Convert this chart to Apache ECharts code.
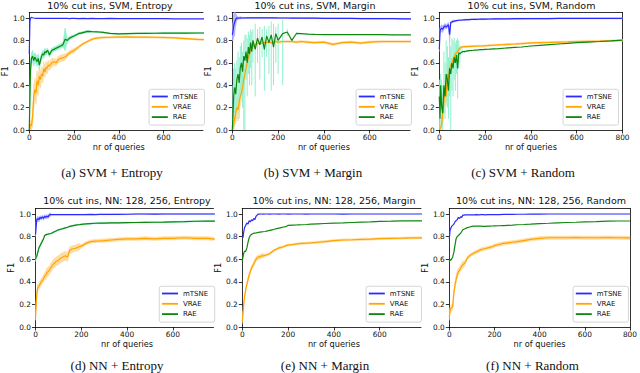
<!DOCTYPE html>
<html><head><meta charset="utf-8">
<script src="https://cdn.jsdelivr.net/npm/echarts@6/dist/echarts.min.js"></script>
<style>html,body{margin:0;padding:0;background:#fff}#c{width:640px;height:373px}</style>
</head><body><div id="c"></div>
<script>
// ---------------- data ----------------
const queries = [0,3,6,10,15,20,25,30,35,40,45,50,55,60,65,70,75,80,85,90,100,110,120,130,140,150,160,170,180,190,200,220,240,260,280,300,330,360,400,440,480,520,560,600,650,700,750,800];
const xTicks = [0,200,400,600,800];
const yTicks = [0,0.2,0.4,0.6,0.8,1.0];
const yTickLabels = ['0.0','0.2','0.4','0.6','0.8','1.0'];
const seriesNames = ['mTSNE','VRAE','RAE'];
const titles = ['10% cut ins, SVM, Entropy','10% cut ins, SVM, Margin','10% cut ins, SVM, Random','10% cut ins, NN: 128, 256, Entropy','10% cut ins, NN: 128, 256, Margin','10% cut ins, NN: 128, 256, Random'];
const captions = ['(a) SVM + Entropy','(b) SVM + Margin','(c) SVM + Random','(d) NN + Entropy','(e) NN + Margin','(f) NN + Random'];

// (a) SVM + Entropy
const a_mTSNE = [0.68,0.97,1.0,1.005,1.002, 1.0,0.998,0.997,0.998,0.997, 0.998,0.997,0.996,0.997,0.996, 0.997,0.996,0.997,0.996,0.997, 0.996,0.996,0.997,0.996,0.996, 0.997,0.996,0.996,0.995,0.996, 0.996,0.995,0.996,0.995,0.996, 0.995,0.995,0.996,0.995,0.995, 0.994,0.995,0.994,0.994,0.993, 0.993,0.992,0.992];
const a_VRAE = [0.0,0.02,0.05,0.04,0.12, 0.3,0.36,0.33,0.44,0.4, 0.48,0.45,0.5,0.48,0.55, 0.52,0.56,0.55,0.58,0.57, 0.6,0.61,0.6,0.63,0.64, 0.645,0.65,0.67,0.69,0.7, 0.71,0.74,0.77,0.79,0.81, 0.82,0.826,0.828,0.83,0.831, 0.83,0.829,0.828,0.826,0.822, 0.816,0.81,0.805];
const a_VRAE_err = [0,0.02,0.04,0.05,0.08, 0.1,0.1,0.1,0.09,0.09, 0.08,0.07,0.07,0.06,0.06, 0.05,0.05,0.05,0.04,0.04, 0.04,0.03,0.03,0.03,0.03, 0.03,0.03,0.02,0.02,0.02, 0.02,0.015,0.01,0.01,0.01, 0.01,0.008,0.008,0.008,0.008, 0.008,0.008,0.008,0.008,0.008, 0.008,0.008,0.008];
const a_RAE = [0.0,0.3,0.55,0.64,0.66, 0.62,0.65,0.63,0.61,0.64, 0.58,0.62,0.66,0.68,0.67, 0.7,0.69,0.71,0.7,0.67, 0.71,0.72,0.73,0.74,0.75, 0.76,0.81,0.8,0.82,0.83, 0.84,0.86,0.87,0.88,0.878, 0.877,0.872,0.862,0.858,0.86, 0.862,0.863,0.864,0.865,0.865, 0.865,0.866,0.866];
const a_RAE_err = [0,0.1,0.08,0.05,0.05, 0.05,0.04,0.04,0.04,0.04, 0.04,0.03,0.03,0.03,0.03, 0.03,0.02,0.02,0.02,0.02, 0.02,0.02,0.02,0.02,0.02, 0.02,0.1,0.02,0.015,0.015, 0.01,0.01,0.01,0.01,0.005, 0.005,0.005,0.005,0.005,0.005, 0.005,0.005,0.005,0.005,0.005, 0.005,0.005,0.005];

// (b) SVM + Margin
const b_mTSNE = [0.85,0.88,0.93,0.96,0.99, 1.0,0.999,1.0,1.001,1.0, 1.0,1.001,1.0,1.001,1.002, 1.002,1.001,1.002,1.002,1.001, 1.002,1.002,1.001,1.002,1.002, 1.001,1.002,1.001,1.001,1.001, 1.0,1.0,1.0,0.999,0.999, 0.999,0.998,0.998,0.997,0.997, 0.996,0.996,0.995,0.995,0.994, 0.994,0.993,0.993];
const b_mTSNE_err = [0.05,0.08,0.1,0.12,0.05, 0.02,0.01,0.01,0.01,0.01, 0.004,0.004,0.004,0.004,0.004, 0.004,0.004,0.004,0.004,0.004, 0.004,0.004,0.004,0.004,0.004, 0.004,0.004,0.004,0.004,0.004, 0.004,0.004,0.004,0.004,0.004, 0.004,0.004,0.004,0.004,0.004, 0.004,0.004,0.004,0.004,0.004, 0.004,0.004,0.004];
const b_VRAE = [0.0,0.02,0.05,0.1,0.15, 0.2,0.18,0.25,0.3,0.33, 0.38,0.45,0.5,0.55,0.6, 0.64,0.68,0.71,0.73,0.75, 0.76,0.77,0.78,0.775,0.78, 0.78,0.785,0.78,0.785,0.79, 0.785,0.79,0.79,0.79,0.785, 0.79,0.785,0.78,0.785,0.765, 0.78,0.785,0.775,0.785,0.79, 0.79,0.79,0.79];
const b_VRAE_err = [0,0.03,0.05,0.07,0.08, 0.1,0.1,0.09,0.08,0.07, 0.06,0.05,0.05,0.04,0.04, 0.03,0.03,0.03,0.02,0.02, 0.01,0.01,0.01,0.01,0.01, 0.01,0.01,0.01,0.01,0.01, 0.01,0.01,0.01,0.01,0.01, 0.01,0.01,0.01,0.01,0.01, 0.01,0.01,0.01,0.01,0.01, 0.01,0.01,0.01];
const b_RAE = [0.0,0.15,0.3,0.38,0.32, 0.45,0.5,0.42,0.56,0.6, 0.52,0.66,0.62,0.7,0.6, 0.74,0.68,0.78,0.7,0.8, 0.72,0.82,0.76,0.83,0.72, 0.84,0.78,0.85,0.74,0.86, 0.8,0.86,0.875,0.8,0.862, 0.86,0.856,0.853,0.852,0.852, 0.851,0.851,0.851,0.851,0.851, 0.85,0.85,0.85];
const b_RAE_lo = [0.0,0.0,0.1,0.15,0.1, 0.2,0.25,0.1,0.3,0.35, 0.2,0.0,0.0,0.45,0.3, 0.5,0.4,0.55,0.4,0.6, 0.3,0.6,0.45,0.65,0.35, 0.65,0.5,0.35,0.4,0.6, 0.5,0.4,0.84,0.79,0.855, 0.855,0.851,0.848,0.847,0.847, 0.846,0.846,0.846,0.846,0.846, 0.845,0.845,0.845];
const b_RAE_hi = [0.1,0.4,0.55,0.6,0.55, 0.62,0.7,0.65,0.75,0.78, 0.7,0.8,0.85,0.85,0.82, 0.88,0.85,0.9,0.88,0.9, 0.95,0.9,0.92,0.9,0.93, 0.9,0.93,0.97,0.95,0.92, 0.95,0.98,0.9,0.81,0.868, 0.865,0.861,0.858,0.857,0.857, 0.856,0.856,0.856,0.856,0.856, 0.855,0.855,0.855];

// (c) SVM + Random
const c_mTSNE = [0.72,0.88,0.9,0.91,0.9, 0.92,0.93,0.92,0.93,0.94, 0.85,0.96,0.965,0.97,0.972, 0.975,0.977,0.978,0.98,0.98, 0.982,0.984,0.985,0.986,0.987, 0.988,0.988,0.989,0.99,0.99, 0.99,0.991,0.992,0.992,0.993, 0.993,0.994,0.994,0.995,0.995, 0.995,0.996,0.996,0.996,0.996, 0.996,0.996,0.996];
const c_mTSNE_err = [0.02,0.03,0.03,0.03,0.03, 0.02,0.02,0.02,0.02,0.02, 0.06,0.01,0.01,0.01,0.01, 0.005,0.005,0.005,0.005,0.005, 0.005,0.005,0.005,0.005,0.005, 0.005,0.005,0.005,0.005,0.005, 0.005,0.005,0.005,0.005,0.005, 0.005,0.005,0.005,0.005,0.005, 0.005,0.005,0.005,0.005,0.005, 0.005,0.005,0.005];
const c_VRAE = [0.0,0.0,0.02,0.05,0.15, 0.25,0.35,0.3,0.5,0.45, 0.55,0.58,0.6,0.63,0.65, 0.68,0.69,0.7,0.72,0.73, 0.742,0.744,0.745,0.746,0.747, 0.748,0.749,0.75,0.75,0.751, 0.752,0.755,0.757,0.76,0.762, 0.765,0.768,0.772,0.778,0.78, 0.782,0.785,0.787,0.79,0.792, 0.794,0.797,0.8];
const c_VRAE_err = [0,0.02,0.05,0.08,0.1, 0.1,0.1,0.08,0.08,0.06, 0.05,0.05,0.04,0.03,0.03, 0.02,0.02,0.02,0.02,0.02, 0.008,0.008,0.008,0.008,0.008, 0.008,0.008,0.008,0.008,0.008, 0.008,0.008,0.008,0.008,0.008, 0.008,0.008,0.008,0.008,0.008, 0.008,0.008,0.008,0.008,0.008, 0.008,0.008,0.008];
const c_RAE = [0.3,0.1,0.4,0.22,0.15, 0.4,0.3,0.5,0.45,0.35, 0.55,0.5,0.6,0.55,0.65, 0.6,0.67,0.55,0.69,0.68, 0.7,0.7,0.705,0.708,0.71, 0.712,0.714,0.715,0.717,0.718, 0.72,0.722,0.725,0.727,0.73, 0.733,0.737,0.741,0.75,0.756, 0.762,0.768,0.773,0.78,0.785, 0.79,0.796,0.803];
const c_RAE_lo = [0.0,0.0,0.15,0.05,0.0, 0.15,0.1,0.25,0.2,0.1, 0.3,0.0,0.35,0.3,0.45, 0.35,0.5,0.28,0.55,0.6, 0.68,0.69,0.695,0.7,0.7, 0.706,0.708,0.709,0.711,0.712, 0.714,0.716,0.719,0.721,0.724, 0.727,0.731,0.735,0.744,0.75, 0.756,0.762,0.767,0.774,0.779, 0.784,0.79,0.797];
const c_RAE_hi = [0.45,0.3,0.5,0.45,0.4, 0.7,0.6,0.8,0.75,0.65, 0.8,0.75,0.82,0.8,0.82, 0.78,0.8,0.82,0.8,0.75, 0.72,0.71,0.715,0.716,0.72, 0.718,0.72,0.721,0.723,0.724, 0.726,0.728,0.731,0.733,0.736, 0.739,0.743,0.747,0.756,0.762, 0.768,0.774,0.779,0.786,0.791, 0.796,0.802,0.809];

// (d) NN + Entropy
const d_mTSNE = [0.82,0.9,0.95,0.96,0.95, 0.97,0.96,0.975,0.96,0.98, 0.97,0.98,0.975,0.99,0.995, 0.995,0.994,0.995,0.995,0.994, 0.995,0.995,0.994,0.995,0.995, 0.995,0.994,0.995,0.995,0.995, 0.995,0.995,0.996,0.995,0.996, 0.996,0.996,0.997,0.998,1.0, 1.0,0.999,1.0,1.0,1.0, 1.0,1.0,1.0];
const d_mTSNE_err = [0.02,0.03,0.02,0.02,0.02, 0.015,0.015,0.015,0.015,0.015, 0.015,0.015,0.015,0.015,0.015, 0.003,0.003,0.003,0.003,0.003, 0.003,0.003,0.003,0.003,0.003, 0.003,0.003,0.003,0.003,0.003, 0.003,0.003,0.003,0.003,0.003, 0.003,0.003,0.003,0.003,0.003, 0.003,0.003,0.003,0.003,0.003, 0.003,0.003,0.003];
const d_VRAE = [0.08,0.2,0.3,0.35,0.36, 0.38,0.4,0.41,0.43,0.45, 0.46,0.48,0.49,0.5,0.52, 0.53,0.55,0.56,0.57,0.58, 0.59,0.61,0.62,0.63,0.62, 0.68,0.69,0.695,0.7,0.71, 0.715,0.74,0.755,0.76,0.762, 0.765,0.77,0.775,0.78,0.78, 0.785,0.78,0.785,0.785,0.79, 0.785,0.785,0.775];
const d_VRAE_err = [0.02,0.03,0.03,0.03,0.03, 0.03,0.03,0.03,0.03,0.03, 0.04,0.04,0.04,0.04,0.04, 0.04,0.04,0.04,0.04,0.04, 0.04,0.04,0.04,0.04,0.04, 0.03,0.03,0.03,0.03,0.03, 0.015,0.015,0.015,0.015,0.015, 0.015,0.015,0.015,0.015,0.015, 0.015,0.015,0.015,0.015,0.015, 0.015,0.015,0.015];
const d_RAE = [0.6,0.62,0.63,0.66,0.7, 0.72,0.74,0.76,0.78,0.81, 0.815,0.82,0.822,0.825,0.827, 0.83,0.835,0.84,0.845,0.85, 0.86,0.865,0.87,0.877,0.883, 0.89,0.895,0.9,0.903,0.905, 0.908,0.912,0.915,0.918,0.919, 0.92,0.921,0.922,0.924,0.925, 0.926,0.927,0.928,0.93,0.932, 0.936,0.938,0.937];
const d_RAE_err = [0.02,0.02,0.015,0.01,0.01, 0.005,0.005,0.005,0.005,0.005, 0.005,0.005,0.005,0.005,0.005, 0.005,0.005,0.005,0.005,0.005, 0.005,0.005,0.005,0.005,0.005, 0.005,0.005,0.005,0.005,0.005, 0.005,0.005,0.005,0.005,0.005, 0.005,0.005,0.005,0.005,0.005, 0.005,0.005,0.005,0.005,0.005, 0.005,0.005,0.005];

// (e) NN + Margin
const e_mTSNE = [0.8,0.79,0.84,0.88,0.9, 0.92,0.91,0.94,0.93,0.95, 0.94,0.96,0.95,0.98,0.99, 1.0,0.999,1.0,1.0,0.999, 1.0,1.0,0.999,1.0,1.0, 1.0,0.999,1.0,1.0,1.0, 0.999,1.0,1.0,1.0,0.999, 1.0,1.0,1.0,1.0,0.999, 1.0,1.0,1.0,1.0,1.0, 1.0,1.0,1.0];
const e_VRAE = [0.05,0.12,0.2,0.27,0.33, 0.38,0.42,0.46,0.49,0.52, 0.54,0.56,0.58,0.6,0.61, 0.62,0.62,0.625,0.63,0.63, 0.635,0.64,0.65,0.665,0.68, 0.69,0.7,0.705,0.71,0.72, 0.725,0.73,0.735,0.74,0.742, 0.745,0.75,0.755,0.765,0.77, 0.772,0.776,0.778,0.782,0.785, 0.786,0.788,0.79];
const e_VRAE_err = [0.02,0.02,0.02,0.02,0.02, 0.02,0.02,0.02,0.02,0.02, 0.02,0.02,0.02,0.02,0.02, 0.02,0.02,0.02,0.02,0.02, 0.01,0.01,0.01,0.01,0.01, 0.01,0.01,0.01,0.01,0.01, 0.01,0.01,0.01,0.01,0.01, 0.01,0.01,0.01,0.01,0.01, 0.01,0.01,0.01,0.01,0.01, 0.01,0.01,0.01];
const e_RAE = [0.58,0.62,0.65,0.67,0.67, 0.7,0.75,0.79,0.81,0.82, 0.825,0.83,0.83,0.832,0.835, 0.837,0.84,0.84,0.842,0.843, 0.845,0.85,0.855,0.86,0.865, 0.87,0.875,0.88,0.885,0.888, 0.9,0.902,0.903,0.905,0.907, 0.91,0.913,0.916,0.92,0.922, 0.925,0.928,0.93,0.935,0.937, 0.94,0.94,0.94];

// (f) NN + Random
const f_mTSNE = [0.78,0.85,0.87,0.89,0.9, 0.91,0.93,0.94,0.95,0.97, 0.96,0.975,0.97,0.99,0.99, 0.992,0.992,0.993,0.992,0.993, 0.993,0.993,0.994,0.993,0.994, 0.994,0.993,0.994,0.994,0.995, 0.995,0.995,0.996,0.997,0.997, 0.998,0.998,0.999,0.999,1.0, 1.0,1.0,1.0,1.0,1.0, 1.0,1.0,1.0];
const f_VRAE = [0.09,0.14,0.16,0.17,0.18, 0.3,0.37,0.42,0.46,0.49, 0.5,0.52,0.54,0.55,0.56, 0.57,0.59,0.61,0.62,0.63, 0.645,0.655,0.665,0.675,0.685, 0.69,0.695,0.7,0.705,0.71, 0.72,0.73,0.74,0.745,0.75, 0.755,0.765,0.775,0.785,0.79, 0.79,0.79,0.792,0.79,0.79, 0.792,0.79,0.788];
const f_VRAE_err = [0.03,0.03,0.03,0.03,0.03, 0.03,0.03,0.03,0.03,0.03, 0.03,0.03,0.03,0.03,0.03, 0.015,0.015,0.015,0.015,0.015, 0.015,0.015,0.015,0.015,0.015, 0.015,0.015,0.015,0.015,0.015, 0.015,0.015,0.015,0.015,0.015, 0.015,0.015,0.015,0.015,0.015, 0.015,0.015,0.015,0.015,0.015, 0.015,0.015,0.015];
const f_RAE = [0.58,0.6,0.59,0.6,0.62, 0.66,0.72,0.78,0.8,0.81, 0.82,0.83,0.845,0.86,0.865, 0.87,0.875,0.88,0.882,0.885, 0.89,0.892,0.894,0.893,0.892, 0.89,0.89,0.892,0.893,0.894, 0.895,0.896,0.898,0.9,0.902, 0.905,0.907,0.91,0.915,0.918, 0.922,0.925,0.927,0.93,0.933, 0.937,0.938,0.938];

// ---------------- layout & style ----------------
const FULLW = 183.2;   // pixel width of 0..800 on each axis
const layout = [
  {left:25.3,  vis:177.7, top:12.4,   h:117.6,  titleX:110,   titleY:5,     capX:112,   capY:172,   rightFrame:false},
  {left:232.3, vis:177.7, top:12.4,   h:117.6,  titleX:315,   titleY:5,     capX:313,   capY:172,   rightFrame:false},
  {left:439.3, vis:183.2, top:12.4,   h:117.6,  titleX:531.5, titleY:5,     capX:523,   capY:172,   rightFrame:true},
  {left:35.5,  vis:178,   top:208.35, h:118.65, titleX:127,   titleY:200.7, capX:117,   capY:365.5, rightFrame:false},
  {left:242.3, vis:178.7, top:208.35, h:118.65, titleX:334,   titleY:200.7, capX:325,   capY:365.5, rightFrame:false},
  {left:449.3, vis:183.2, top:208.35, h:118.65, titleX:541,   titleY:200.7, capX:532.5, capY:365.5, rightFrame:true}
];
const panelSeries = [
  {mTSNE:{v:a_mTSNE}, VRAE:{v:a_VRAE, err:a_VRAE_err}, RAE:{v:a_RAE, err:a_RAE_err}},
  {mTSNE:{v:b_mTSNE, err:b_mTSNE_err}, VRAE:{v:b_VRAE, err:b_VRAE_err}, RAE:{v:b_RAE, lo:b_RAE_lo, hi:b_RAE_hi}},
  {mTSNE:{v:c_mTSNE, err:c_mTSNE_err}, VRAE:{v:c_VRAE, err:c_VRAE_err}, RAE:{v:c_RAE, lo:c_RAE_lo, hi:c_RAE_hi}},
  {mTSNE:{v:d_mTSNE, err:d_mTSNE_err}, VRAE:{v:d_VRAE, err:d_VRAE_err}, RAE:{v:d_RAE, err:d_RAE_err}},
  {mTSNE:{v:e_mTSNE}, VRAE:{v:e_VRAE, err:e_VRAE_err}, RAE:{v:e_RAE}},
  {mTSNE:{v:f_mTSNE}, VRAE:{v:f_VRAE, err:f_VRAE_err}, RAE:{v:f_RAE}}
];
const lineColor = {mTSNE:'#2b2bff', VRAE:'#ffa500', RAE:'#0f870f'};
const bandColor = {mTSNE:'#b0b0ff', VRAE:'#ffdba0', RAE:'#8ff0cc'};
const FONT = 'DejaVu Sans';
const AX = '#000';

const grids = [], xAxes = [], yAxes = [], series = [], legends = [], graphics = [];

layout.forEach((L, i) => {
  const xMax = L.vis / FULLW * 800;
  const fullCenter = L.left + FULLW / 2;
  const visCenter = L.left + L.vis / 2;
  grids.push({left:L.left, top:L.top, width:L.vis, height:L.h});
  const xt = xTicks.filter(v => v <= xMax + 0.01);
  const bx = xAxes.length;
  xAxes.push({
    gridIndex:i, type:'value', min:0, max:xMax, interval:200, position:'bottom',
    axisLine:{show:true, onZero:false, lineStyle:{color:AX, width:0.8}},
    axisTick:{show:true, length:3.5, customValues:xt, lineStyle:{color:AX, width:0.8}},
    axisLabel:{fontSize:7.4, color:'#111', margin:3.7, fontFamily:FONT, showMaxLabel:xMax > 799,
      formatter:v => (xt.indexOf(v) >= 0 ? String(v) : '')},
    splitLine:{show:false},
    name:'nr of queries', nameLocation:'middle', nameGap:12.9,
    nameTextStyle:{fontSize:8.2, color:'#111', fontFamily:FONT, padding:[0,0,0,2*(fullCenter-visCenter)]}
  });
  xAxes.push({
    gridIndex:i, type:'value', min:0, max:xMax, position:'top',
    axisLine:{show:true, onZero:false, lineStyle:{color:AX, width:0.8}},
    axisTick:{show:false}, axisLabel:{show:false}, splitLine:{show:false}
  });
  const ly = yAxes.length;
  yAxes.push({
    gridIndex:i, type:'value', min:0, max:1.05, interval:0.2, position:'left',
    axisLine:{show:true, onZero:false, lineStyle:{color:AX, width:0.8}},
    axisTick:{show:true, length:3.5, customValues:yTicks, lineStyle:{color:AX, width:0.8}},
    axisLabel:{fontSize:7.4, color:'#111', margin:4.6, fontFamily:FONT, showMaxLabel:false,
      formatter:v => { const k = yTicks.findIndex(t => Math.abs(t - v) < 1e-6); return k >= 0 ? yTickLabels[k] : ''; }},
    splitLine:{show:false},
    name:'F1', nameLocation:'middle', nameGap:18.3, nameRotate:90,
    nameTextStyle:{fontSize:8.2, color:'#111', fontFamily:FONT}
  });
  if (L.rightFrame) {
    yAxes.push({
      gridIndex:i, type:'value', min:0, max:1.05, position:'right',
      axisLine:{show:true, onZero:false, lineStyle:{color:AX, width:0.8}},
      axisTick:{show:false}, axisLabel:{show:false}, splitLine:{show:false}
    });
  }
  const P = panelSeries[i];
  seriesNames.forEach(name => {
    const s = P[name];
    if (s.err) {
      const items = [];
      for (let k = 0; k < queries.length - 1; k++) {
        items.push([queries[k], s.v[k]-s.err[k], s.v[k]+s.err[k], queries[k+1], s.v[k+1]-s.err[k+1], s.v[k+1]+s.err[k+1]]);
      }
      series.push({
        type:'custom', name:name+' err '+i, xAxisIndex:bx, yAxisIndex:ly, clip:true, silent:true,
        encode:{x:[0,3], y:[1,2,4,5]}, data:items,
        renderItem:(params, api) => {
          const p1 = api.coord([api.value(0), api.value(1)]);
          const p2 = api.coord([api.value(0), api.value(2)]);
          const p3 = api.coord([api.value(3), api.value(5)]);
          const p4 = api.coord([api.value(3), api.value(4)]);
          return {type:'polygon', shape:{points:[p1,p2,p3,p4]}, style:{fill:bandColor[name], stroke:bandColor[name], lineWidth:0.4}};
        }
      });
    }
    if (s.lo) {
      const items = queries.map((q,k) => [q, s.lo[k], s.hi[k]]);
      series.push({
        type:'custom', name:name+' err '+i, xAxisIndex:bx, yAxisIndex:ly, clip:true, silent:true,
        encode:{x:0, y:[1,2]}, data:items,
        renderItem:(params, api) => {
          const p1 = api.coord([api.value(0), api.value(1)]);
          const p2 = api.coord([api.value(0), api.value(2)]);
          return {type:'line', shape:{x1:p1[0], y1:p1[1], x2:p2[0], y2:p2[1]}, style:{stroke:bandColor[name], lineWidth:1}};
        }
      });
    }
    series.push({
      type:'line', name:name, xAxisIndex:bx, yAxisIndex:ly, clip:true, silent:true,
      showSymbol:false, symbol:'none',
      data:queries.map((q,k) => [q, s.v[k]]),
      lineStyle:{width:1.2, color:lineColor[name]},
      itemStyle:{color:lineColor[name]}
    });
  });
  legends.push({
    orient:'vertical', left:L.left + FULLW - 4 - 55.4, top:L.top + L.h - 40.7,
    data:seriesNames, selectedMode:false,
    itemWidth:16, itemHeight:8, itemGap:3.3, padding:[3.7,6.5,4.5,2.7],
    icon:'path://M0,3.1H16V4.9H0Z',
    borderColor:'#cccccc', borderWidth:0.8, borderRadius:2, backgroundColor:'rgba(255,255,255,0.85)',
    textStyle:{fontSize:7, fontFamily:FONT, color:'#111'}
  });
  graphics.push({type:'text', x:L.titleX, y:L.titleY, style:{text:titles[i], font:'9.5px "DejaVu Sans"', fill:'#111', textAlign:'center', textVerticalAlign:'middle', align:'center', verticalAlign:'middle'}});
  graphics.push({type:'text', x:L.capX, y:L.capY, style:{text:captions[i], font:'13px "Liberation Serif"', fill:'#111', textAlign:'center', textVerticalAlign:'middle', align:'center', verticalAlign:'middle'}});
});

const chart = echarts.init(document.getElementById('c'), null, {renderer:'svg', width:640, height:373});
chart.setOption({
  animation:false,
  backgroundColor:'#fff',
  textStyle:{fontFamily:FONT},
  grid:grids, xAxis:xAxes, yAxis:yAxes, series:series, legend:legends,
  graphic:{elements:graphics}
});
</script>
</body></html>
